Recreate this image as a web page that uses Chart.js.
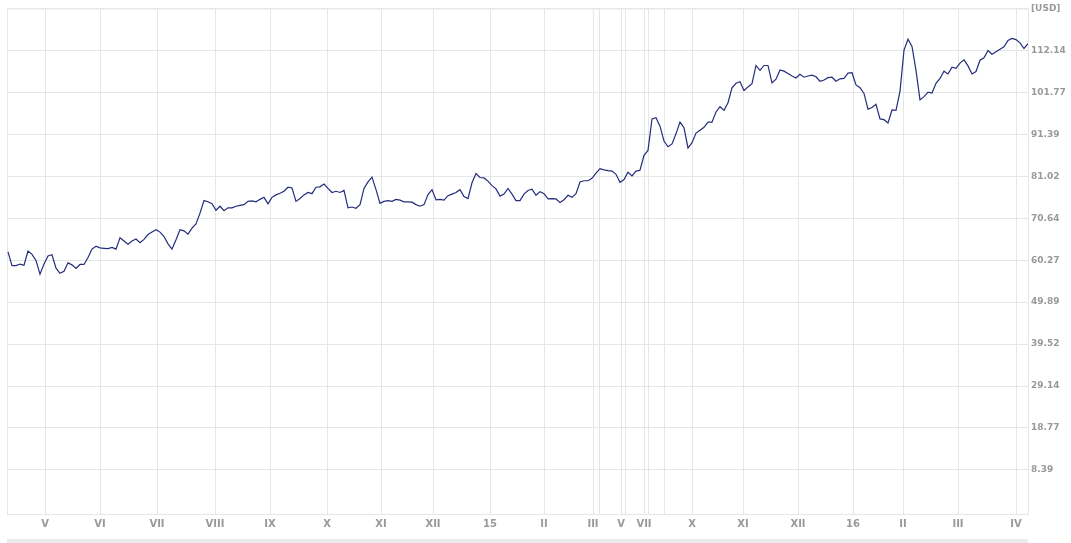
<!DOCTYPE html>
<html>
<head>
<meta charset="UTF-8">
<title>Price chart</title>
<script src="https://cdn.jsdelivr.net/npm/chart.js"></script>
<style>
	body { margin: 0; background: #fff; }
</style>
</head>
<body>
	<canvas id="myChart" width="1071" height="543"></canvas>

	<script>
		// month boundaries (trading day index) and their labels
		let monthTicks = [9.25, 23, 37.25, 51.75, 65.5, 79.75, 93.25, 106.25, 120.5, 134, 146.25, 147.75,
			153.25, 154.25, 159, 160, 164, 171, 183.75, 197.5, 211.25, 223.75, 237.5, 252];
		let monthLabels = ['V', 'VI', 'VII', 'VIII', 'IX', 'X', 'XI', 'XII', '15', 'II', 'III', '',
			'V', '', 'VII', '', '', 'X', 'XI', 'XII', '16', 'II', 'III', 'IV'];

		// price axis
		let yTicks = [8.39, 18.765, 29.14, 39.515, 49.89, 60.265, 70.64, 81.015, 91.39, 101.765, 112.14, 122.515];
		let yLabels = ['8.39', '18.77', '29.14', '39.52', '49.89', '60.27', '70.64', '81.02', '91.39', '101.77', '112.14', '[USD]'];

		// closing price, one value per trading day
		let prices = [
			62.3, 58.9, 58.9, 59.3, 59.0, 62.5, 61.7, 60.2, 56.8, 59.3,
			61.3, 61.6, 58.3, 57.0, 57.5, 59.6, 59.1, 58.2, 59.2, 59.2,
			60.9, 63.0, 63.7, 63.3, 63.2, 63.1, 63.4, 63.0, 65.8, 65.0,
			64.2, 65.0, 65.5, 64.6, 65.4, 66.6, 67.2, 67.8, 67.2, 66.1,
			64.3, 63.0, 65.3, 67.8, 67.5, 66.7, 68.2, 69.2, 71.9, 75.0,
			74.7, 74.2, 72.6, 73.6, 72.5, 73.2, 73.2, 73.6, 73.8, 74.0,
			74.8, 74.9, 74.7, 75.3, 75.8, 74.2, 75.8, 76.4, 76.8, 77.3,
			78.3, 78.1, 74.8, 75.5, 76.4, 77.0, 76.7, 78.3, 78.4, 79.1,
			78.0, 77.0, 77.3, 77.0, 77.5, 73.2, 73.4, 73.1, 74.0, 78.0,
			79.6, 80.8, 77.7, 74.3, 74.8, 75.0, 74.8, 75.3, 75.1, 74.7,
			74.7, 74.6, 74.0, 73.6, 74.0, 76.5, 77.7, 75.2, 75.3, 75.1,
			76.2, 76.6, 77.0, 77.7, 76.0, 75.5, 79.4, 81.7, 80.7, 80.6,
			79.8, 78.7, 77.9, 76.1, 76.6, 78.0, 76.6, 75.0, 75.0, 76.6,
			77.5, 77.8, 76.3, 77.2, 76.7, 75.4, 75.5, 75.4, 74.5, 75.2,
			76.3, 75.8, 76.7, 79.6, 79.9, 79.9, 80.5, 81.8, 82.9, 82.6,
			82.4, 82.3, 81.5, 79.5, 80.2, 82.0, 81.1, 82.3, 82.5, 86.2,
			87.4, 95.2, 95.5, 93.4, 89.7, 88.3, 89.0, 91.5, 94.4, 93.0,
			88.0, 89.3, 91.7, 92.4, 93.1, 94.4, 94.4, 96.9, 98.2, 97.3,
			99.2, 102.9, 104.0, 104.4, 102.2, 103.1, 103.9, 108.4, 107.2, 108.4,
			108.4, 104.1, 105.0, 107.3, 107.0, 106.4, 105.8, 105.3, 106.2, 105.5,
			105.8, 106.0, 105.6, 104.5, 104.8, 105.4, 105.5, 104.5, 105.1, 105.2,
			106.5, 106.6, 103.6, 102.9, 101.5, 97.6, 98.0, 98.8, 95.2, 95.0,
			94.2, 97.4, 97.3, 102.0, 112.2, 114.9, 113.1, 107.2, 99.9, 100.7,
			101.8, 101.6, 104.0, 105.2, 107.0, 106.3, 108.0, 107.7, 109.0, 109.8,
			108.3, 106.3, 106.9, 109.7, 110.3, 112.1, 111.2, 111.8, 112.4, 113.0,
			114.6, 115.1, 114.8, 114.0, 112.6, 113.8
		];
	</script>

	<script>
		const gridColor = '#e6e6e6';
		const textColor = '#999999';

		// frame round the plot and the grey strip under the chart
		const framePlugin = {
			id: 'frame',
			beforeDatasetsDraw(chart) {
				const { ctx, chartArea: a } = chart;
				ctx.save();
				ctx.strokeStyle = gridColor;
				ctx.lineWidth = 1;
				ctx.strokeRect(a.left + 0.5, a.top + 0.5, a.right - a.left, a.bottom - a.top);
				ctx.restore();
			},
			afterDraw(chart) {
				const { ctx, chartArea: a } = chart;
				ctx.save();
				ctx.fillStyle = '#ebebeb';
				ctx.fillRect(a.left, 539, a.right - a.left, 4);
				ctx.restore();
			}
		};

		new Chart('myChart', {
			type: 'line',
			data: {
				datasets: [{
					data: prices.map((p, i) => ({ x: i, y: p })),
					borderColor: '#232d7c',
					borderWidth: 1.2,
					pointRadius: 0,
					tension: 0,
					fill: false
				}]
			},
			options: {
				responsive: false,
				animation: false,
				layout: { padding: { left: 7, top: 8, right: 0, bottom: 0 } },
				plugins: {
					legend: { display: false },
					tooltip: { enabled: false }
				},
				scales: {
					x: {
						type: 'linear',
						min: -0.25,
						max: 255,
						afterBuildTicks: s => { s.ticks = monthTicks.map(v => ({ value: v })); },
						afterFit: s => { s.height = 29; },
						grid: { color: gridColor, drawTicks: false },
						border: { display: false },
						ticks: {
							autoSkip: false,
							maxRotation: 0,
							padding: 4,
							color: textColor,
							font: { family: 'DejaVu Sans', size: 10, weight: 'bold' },
							callback: (v, i) => monthLabels[i]
						}
					},
					y: {
						position: 'right',
						min: -2.5,
						max: 122.515,
						afterBuildTicks: s => { s.ticks = yTicks.map(v => ({ value: v })); },
						afterFit: s => { s.width = 43; },
						grid: { color: gridColor, drawTicks: false },
						border: { display: false },
						ticks: {
							padding: 3,
							color: textColor,
							font: { family: 'DejaVu Sans', size: 9, weight: 'bold' },
							callback: (v, i) => yLabels[i]
						}
					}
				}
			},
			plugins: [framePlugin]
		});
	</script>
</body>
</html>
